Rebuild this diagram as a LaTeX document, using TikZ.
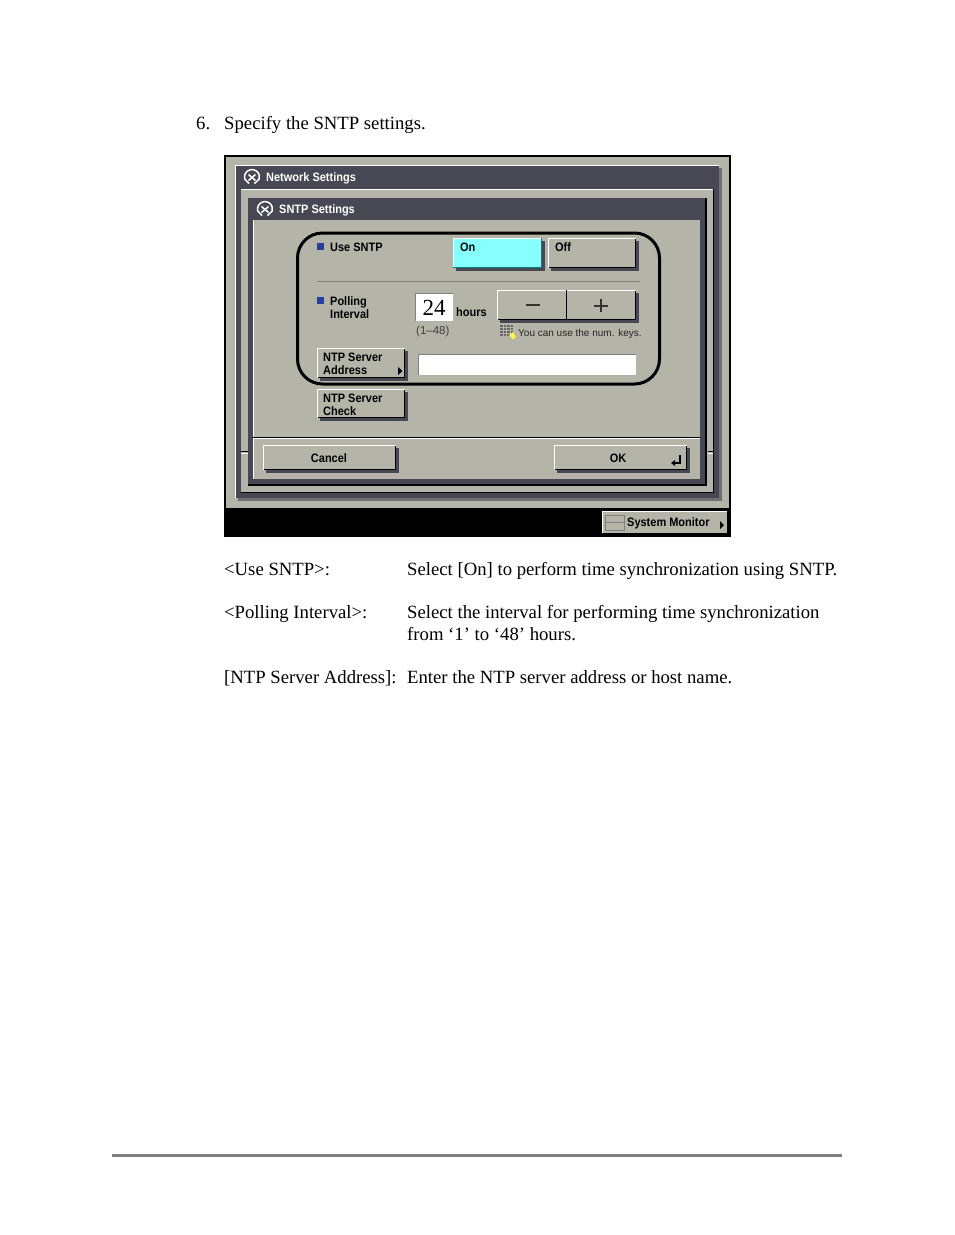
\documentclass[tikz,border=0pt]{standalone}
\usepackage{fontspec}
\setmainfont{Liberation Serif}
\newfontfamily\uifont[FakeStretch=0.9]{Liberation Sans}
\newfontfamily\uiplain{Liberation Sans}
\definecolor{panel}{HTML}{B4B4A8}
\definecolor{titlebar}{HTML}{484854}
\definecolor{shade}{HTML}{50505C}
\definecolor{cyanon}{HTML}{88FFFF}
\definecolor{bluebul}{HTML}{2040A8}
\definecolor{rulegray}{HTML}{808080}
\tikzset{
  body/.style={anchor=base west,inner sep=0pt,font=\fontsize{18.7}{22}\selectfont,text=black},
  uib/.style={anchor=base west,inner sep=0pt,font=\uifont\bfseries\fontsize{12.2}{13}\selectfont,text=black},
  uir/.style={anchor=base west,inner sep=0pt,font=\uiplain\fontsize{11.5}{13}\selectfont,text=black},
  wtitle/.style={anchor=base west,inner sep=0pt,font=\uifont\bfseries\fontsize{12.2}{13}\selectfont,text=white},
}
\newcommand{\uibutton}[6][panel]{%
  % #2 x0, #3 y0, #4 x1, #5 y1, #6 name
  \fill[titlebar] (#2+3,#3+3) rectangle (#4+3,#5+3);
  \fill[#1] (#2,#3) rectangle (#4,#5);
  \draw[white,line width=1.2] (#2+.5,#5-.5) -- (#2+.5,#3+.5) -- (#4-.5,#3+.5);
  \draw[black,line width=1] (#2+.5,#5-.5) -- (#4-.5,#5-.5) -- (#4-.5,#3+.5);
  \coordinate (#6) at (#2,#3);
}
\newcommand{\wicon}[2]{%
  \begin{scope}[shift={(#1,#2)}]
   \draw[white,line width=1.5] (-7.25,2) arc (165:375:7.5) -- (2.5,6.5);
   \draw[white,line width=1.5] (-7.25,2) -- (-3,6.5);
   \draw[white,line width=1.5] (-3.5,3.5) -- (3.5,-2.5) (-3.5,-2.5) -- (3.5,3.5);
  \end{scope}}
\begin{document}
\begin{tikzpicture}[x=1pt,y=-1pt]
\useasboundingbox (0,0) rectangle (954,1235);
\fill[white] (0,0) rectangle (954,1235);
% page text
\node[body] (n6) at (196,129) {6.};
\node[body] (t0) at (224,129) {Specify the SNTP settings.};
\node[body] (l1) at (224,575) {<Use SNTP>:};
\node[body] (d1) at (407,575) {Select [On] to perform time synchronization using SNTP.};
\node[body] (l2) at (224,618) {<Polling Interval>:};
\node[body] (d2) at (407,618) {Select the interval for performing time synchronization};
\node[body] (d2b) at (407,640) {from ‘1’ to ‘48’ hours.};
\node[body] (l3) at (224,683) {[NTP Server Address]:};
\node[body] (d3) at (407,683) {Enter the NTP server address or host name.};
\fill[rulegray] (112,1154) rectangle (842,1157);
% screen
\fill[black] (224,155) rectangle (731,537);
\fill[panel] (226,157) rectangle (729,508);
% outer window
\fill[shade!70!panel] (238,168) rectangle (722,501);
\fill[titlebar] (235,165) rectangle (719,498);
\draw[white,line width=1] (235.5,498) -- (235.5,165.5) -- (719,165.5);
\fill[panel] (241,190) rectangle (713,492);
\draw[white,line width=1] (241,189.5) -- (713,189.5);
\draw[black,line width=1] (241,492.5) -- (713.5,492.5) -- (713.5,189);
% notches
\draw[black,line width=1] (241,451) -- (248,451) (708,451) -- (713,451);
\draw[white,line width=1] (241,453) -- (248,453) (708,453) -- (713,453);
% inner window
\fill[black] (248,198) rectangle (707,486);
\fill[titlebar] (248,198) rectangle (705,484);
\fill[panel] (253,220) rectangle (700,479);
\draw[white,line width=1] (253.5,479) -- (253.5,220);
\draw[black,line width=1] (253,437.5) -- (700,437.5);
\draw[white,line width=1] (253,438.7) -- (700,438.7);
% titles
\wicon{252}{177}
\node[wtitle] (tn) at (266,181.5) {Network Settings};
\wicon{265}{209}
\node[wtitle] (ts) at (279,213.5) {SNTP Settings};
% bullets and separators
\fill[bluebul] (317,243) rectangle (324,250);
\fill[bluebul] (317,297) rectangle (324,304);
\draw[gray,line width=.8] (317,281.5) -- (640,281.5);
\node[uib] (useL) at (330,251) {Use SNTP};
\node[uib] (pol1) at (330,305) {Polling};
\node[uib] (pol2) at (330,318) {Interval};
% buttons
\uibutton[cyanon]{453}{238}{542}{268}{bOn}
\draw[teal,line width=1] (453,267.5) -- (541.5,267.5) -- (541.5,238);
\node[uib] (on) at (460,251) {On};
\uibutton{548}{238}{636}{268}{bOff}
\node[uib] (off) at (555,251) {Off};
% number field
\fill[white] (415,293) rectangle (453,321);
\draw[gray,line width=1] (415.5,321) -- (415.5,293.5) -- (453,293.5);
\node[anchor=base,inner sep=0pt,font=\fontsize{23}{24}\selectfont] (num) at (434,315) {24};
\node[uib] (hrs) at (456,316) {hours};
\node[uir,text=black!75] (rng) at (416,334.5) {(1–48)};
\uibutton{497}{290}{636}{320}{bPM}
\draw[black,line width=1] (566.5,290) -- (566.5,320);
\draw[black!80,line width=2] (526,305) -- (540,305);
\draw[black!80,line width=2] (594,305.5) -- (608,305.5) (601,299) -- (601,312);
% keypad icon
\foreach \yy in {325,328,331,334} \foreach \xx in {500,503.5,507,510.5}
  \fill[black!60] (\xx,\yy) rectangle ++(2.5,2);
\fill[yellow!70] (509,335) -- (513,332) -- (516,337) -- (513,339.5) -- cycle;
\node[anchor=base west,inner sep=0pt,font=\uiplain\fontsize{10}{12}\selectfont,text=black!85] (hint) at (518,336) {You can use the num. keys.};
% NTP buttons
\uibutton{317}{348}{405}{378}{bAddr}
\node[uib] (a1) at (323,361) {NTP Server};
\node[uib] (a2) at (323,374) {Address};
\fill[black] (398,367) -- (402.5,371) -- (398,375) -- cycle;
\fill[white] (418,354) rectangle (636,375);
\draw[gray,line width=.8] (418.4,375) -- (418.4,354.4) -- (636,354.4);
\uibutton{317}{389}{405}{418}{bChk}
\node[uib] (c1) at (323,402) {NTP Server};
\node[uib] (c2) at (323,415) {Check};
% highlight
\draw[black,line width=3,rounded corners=25] (297.5,233) rectangle (659.5,384);
% bottom buttons
\uibutton{263}{445}{396}{470}{bCancel}
\node[uib,anchor=base] (cc) at (329,462) {Cancel};
\uibutton{554}{445}{687}{470}{bOK}
\node[uib,anchor=base] (ok) at (618,462) {OK};
\draw[black,line width=2] (680,455) -- (680,463) -- (672,463);
\fill[black] (675,460) -- (671,463) -- (675,466) -- cycle;
% system monitor
\fill[panel] (602,511) rectangle (727,533);
\draw[white,line width=1] (602.5,533) -- (602.5,511.5) -- (727,511.5);
\draw[gray,line width=.8] (605,515) rectangle (624,530) (605,522.5) -- (624,522.5);
\node[uib] (sm) at (627,526) {System Monitor};
\fill[black] (720,521) -- (724,525) -- (720,529) -- cycle;
\end{tikzpicture}
\end{document}
